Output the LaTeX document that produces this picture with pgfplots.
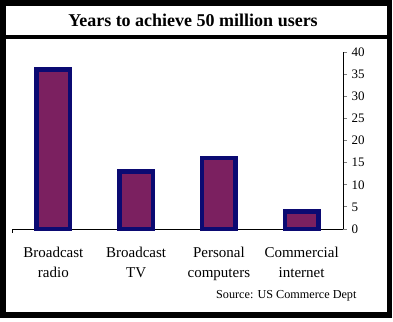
\documentclass[border=0pt]{standalone}
\usepackage{pgfplots}
\pgfplotsset{compat=1.18}
\usepackage{fontspec}
\setmainfont{Liberation Serif}
\definecolor{barfill}{HTML}{7B2060}
\definecolor{baredge}{HTML}{0B0A72}
\begin{document}
\begin{tikzpicture}[x=1pt,y=1pt]
\path (0,0) rectangle (393,321);
\draw[line width=5.5pt] (3,6) rectangle (389.5,318);
\draw[line width=4pt] (3,284) -- (389.5,284);
\node[font=\fontsize{18}{21}\selectfont\bfseries] at (193,301) {Years to achieve 50 million users};
\begin{axis}[
  at={(12pt,92pt)}, anchor=south west,
  scale only axis, width=331pt, height=177pt,
  xmin=-0.5, xmax=3.5, ymin=0, ymax=40,
  axis y line=right, axis x line=bottom,
  axis line style={-, line width=0.9pt},
  ytick={0,5,...,40},
  ytick style={line width=0.9pt},
  tick align=outside, major tick length=4pt,
  xtick=data, xticklabels={}, xtick style={draw=none},
  extra x ticks={-0.5}, extra x tick labels={}, extra x tick style={xtick style={draw=black,line width=0.9pt}},
  yticklabel style={font=\fontsize{13}{15}\selectfont, xshift=1pt},
  /pgf/number format/assume math mode=true,
  ybar, bar width=33.5pt,
  clip=false,
]
\addplot[fill=barfill, draw=baredge, line width=4.5pt] coordinates {(0,36) (1,13) (2,16) (3,4)};
\node[font=\fontsize{15}{20}\selectfont, align=center, anchor=north] at (axis cs:0,0) [yshift=-15pt] {Broadcast\\radio};
\node[font=\fontsize{15}{20}\selectfont, align=center, anchor=north] at (axis cs:1,0) [yshift=-15pt] {Broadcast\\TV};
\node[font=\fontsize{15}{20}\selectfont, align=center, anchor=north] at (axis cs:2,0) [yshift=-15pt] {Personal\\computers};
\node[font=\fontsize{15}{20}\selectfont, align=center, anchor=north] at (axis cs:3,0) [yshift=-15pt] {Commercial\\internet};
\end{axis}
\node[font=\fontsize{12.2}{15}\selectfont, anchor=east] at (360,25) {Source: US Commerce Dept};
\end{tikzpicture}
\end{document}
